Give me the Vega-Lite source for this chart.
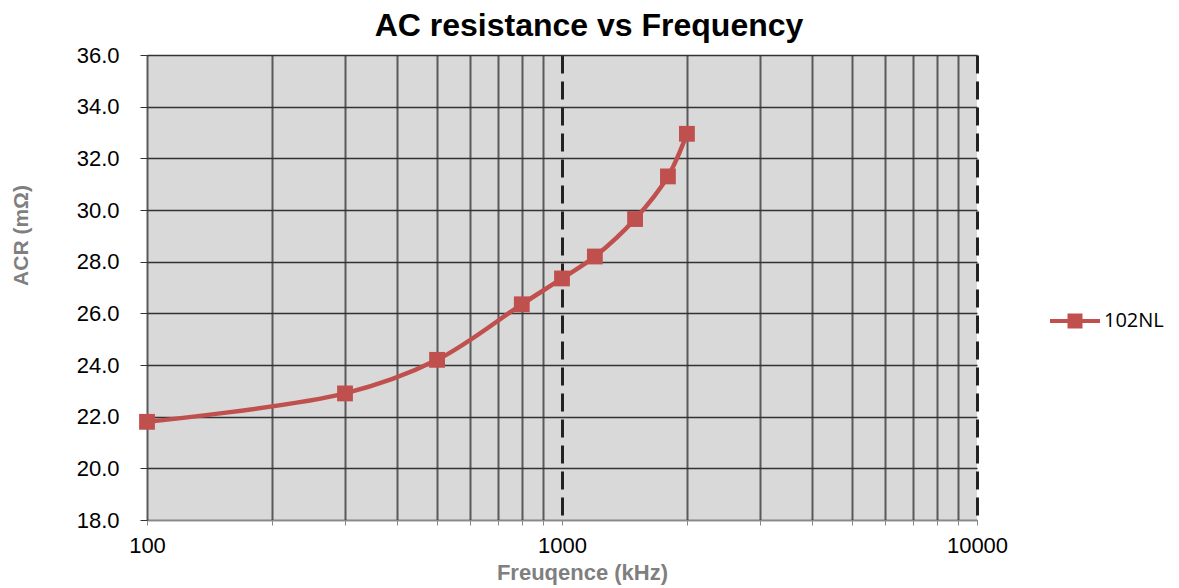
{
  "$schema": "https://vega.github.io/schema/vega-lite/v6.json",
  "autosize": {"type": "none"},
  "width": 830,
  "height": 465,
  "padding": {"left": 147, "top": 55, "right": 202, "bottom": 68},
  "background": "white",
  "view": {"fill": "#d9d9d9", "stroke": null},
  "title": {
    "text": "AC resistance vs Frequency",
    "font": "Liberation Sans",
    "fontSize": 32,
    "fontWeight": "bold",
    "color": "#000000",
    "anchor": "middle",
    "dx": 27,
    "offset": 1
  },
  "data": {
    "values": [
      {"freq": 100, "acr": 21.8, "series": "102NL"},
      {"freq": 300, "acr": 22.9, "series": "102NL"},
      {"freq": 500, "acr": 24.2, "series": "102NL"},
      {"freq": 800, "acr": 26.35, "series": "102NL"},
      {"freq": 1000, "acr": 27.35, "series": "102NL"},
      {"freq": 1200, "acr": 28.2, "series": "102NL"},
      {"freq": 1500, "acr": 29.65, "series": "102NL"},
      {"freq": 1800, "acr": 31.3, "series": "102NL"},
      {"freq": 2000, "acr": 32.95, "series": "102NL"}
    ]
  },
  "encoding": {
    "x": {
      "field": "freq",
      "type": "quantitative",
      "scale": {"type": "log", "domain": [100, 10000], "nice": false},
      "axis": {
        "title": "Freuqence (kHz)",
        "titleFont": "Liberation Sans",
        "titleFontSize": 22,
        "titleFontWeight": "bold",
        "titleColor": "#7f7f7f",
        "titleX": 435,
        "titleY": 59,
        "titleBaseline": "alphabetic",
        "values": [100, 200, 300, 400, 500, 600, 700, 800, 900, 1000, 2000, 3000, 4000, 5000, 6000, 7000, 8000, 9000, 10000],
        "labelExpr": "(datum.value == 100 || datum.value == 1000 || datum.value == 10000) ? datum.value + '' : ''",
        "labelFont": "Liberation Sans",
        "labelFontSize": 22,
        "labelColor": "#000000",
        "labelPadding": 10,
        "labelFlush": false,
        "labelOverlap": false,
        "domainColor": "#888888",
        "domainWidth": 1,
        "tickColor": "#888888",
        "tickSize": 5,
        "ticks": true,
        "grid": true,
        "gridColor": {"condition": {"test": "datum.value == 1000 || datum.value == 10000", "value": "#222222"}, "value": "#5a5a5a"},
        "gridWidth": {"condition": {"test": "datum.value == 1000 || datum.value == 10000", "value": 3}, "value": 2},
        "gridDash": {"condition": {"test": "datum.value == 1000 || datum.value == 10000", "value": [18, 8]}, "value": []}
      }
    },
    "y": {
      "field": "acr",
      "type": "quantitative",
      "scale": {"domain": [18, 36], "nice": false, "zero": false},
      "axis": {
        "title": "ACR (mΩ)",
        "titleFont": "Liberation Sans",
        "titleFontSize": 21,
        "titleFontWeight": "bold",
        "titleColor": "#7f7f7f",
        "titleX": -120,
        "titleY": 180,
        "titleBaseline": "alphabetic",
        "values": [18, 20, 22, 24, 26, 28, 30, 32, 34, 36],
        "format": ".1f",
        "labelFont": "Liberation Sans",
        "labelFontSize": 22,
        "labelColor": "#000000",
        "labelPadding": 21,
        "labelFlush": false,
        "domain": false,
        "ticks": true,
        "tickColor": "#333333",
        "tickSize": 7,
        "grid": true,
        "gridColor": "#333333",
        "gridWidth": 1.5
      }
    },
    "color": {
      "field": "series",
      "type": "nominal",
      "scale": {"range": ["#c0504d"]},
      "legend": {
        "title": null,
        "orient": "none",
        "legendX": 903,
        "legendY": 241,
        "symbolType": "M-1,-0.08H1V0.08H-1Z M-0.3,-0.3H0.3V0.3H-0.3Z",
        "symbolSize": 2500,
        "symbolFillColor": "#c0504d",
        "symbolStrokeColor": "#c0504d",
        "symbolStrokeWidth": 0,
        "symbolOpacity": 1,
        "labelFont": "Open Sans",
        "labelFontSize": 20,
        "labelColor": "#000000",
        "labelOffset": 4
      }
    }
  },
  "layer": [
    {
      "mark": {"type": "line", "interpolate": "catmull-rom", "strokeWidth": 4.5},
      "encoding": {}
    },
    {
      "mark": {"type": "point", "shape": "square", "filled": true, "size": 250, "opacity": 1},
      "encoding": {}
    }
  ]
}
